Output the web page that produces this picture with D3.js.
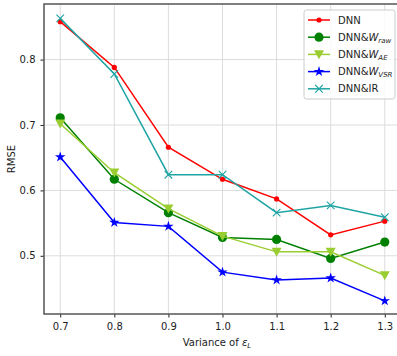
<!DOCTYPE html>
<html>
<head>
<meta charset="utf-8">
<script src="https://cdn.jsdelivr.net/npm/d3@7"></script>
<style>
  body { margin: 0; background: #fff; }
  svg { display: block; font-family: "DejaVu Sans", sans-serif; }
</style>
</head>
<body>
<svg id="chart" width="397" height="356"></svg>
<script>
// data
const variances = [0.7, 0.8, 0.9, 1.0, 1.1, 1.2, 1.3];
const dnn     = [0.858, 0.788, 0.666, 0.617, 0.587, 0.532, 0.553];
const dnnRaw  = [0.711, 0.617, 0.566, 0.528, 0.525, 0.496, 0.521];
const dnnAE   = [0.702, 0.627, 0.572, 0.530, 0.506, 0.506, 0.470];
const dnnVSR  = [0.651, 0.551, 0.545, 0.475, 0.463, 0.466, 0.431];
const dnnIR   = [0.863, 0.778, 0.624, 0.624, 0.566, 0.577, 0.559];
const yTicks = [0.5, 0.6, 0.7, 0.8];

const series = [
  { name: "DNN", sub: null, values: dnn, color: "#ff0000", marker: "dot" },
  { name: "DNN&W", sub: "raw", values: dnnRaw, color: "#008000", marker: "circle" },
  { name: "DNN&W", sub: "AE", values: dnnAE, color: "#9acd32", marker: "tri" },
  { name: "DNN&W", sub: "VSR", values: dnnVSR, color: "#0000ff", marker: "star" },
  { name: "DNN&IR", sub: null, values: dnnIR, color: "#1fa3a3", marker: "x" }
];

const svg = d3.select("#chart");
const margin = { left: 44, top: 4, bottom: 42 };
const height = 356;

const x = d3.scaleLinear().domain([0.67, 1.33]).range([margin.left, 401]);
const y = d3.scaleLinear().domain([0.411, 0.885]).range([height - margin.bottom, margin.top]);

// grid
const grid = svg.append("g");
grid.selectAll("line.vg").data(variances).enter().append("line")
  .attr("x1", d => x(d)).attr("x2", d => x(d))
  .attr("y1", y.range()[1]).attr("y2", y.range()[0])
  .attr("stroke", "#dcdcdc").attr("stroke-width", 1);
grid.selectAll("line.hg").data(yTicks).enter().append("line")
  .attr("x1", x.range()[0]).attr("x2", x.range()[1])
  .attr("y1", d => y(d)).attr("y2", d => y(d))
  .attr("stroke", "#dcdcdc").attr("stroke-width", 1);

// axes
const xAxis = svg.append("g")
  .attr("transform", `translate(0,${y.range()[0]})`)
  .call(d3.axisBottom(x).tickValues(variances).tickFormat(d3.format(".1f")).tickSize(3.5).tickPadding(5));
const yAxis = svg.append("g")
  .attr("transform", `translate(${margin.left},0)`)
  .call(d3.axisLeft(y).tickValues(yTicks).tickFormat(d3.format(".1f")).tickSize(3.5).tickPadding(5));
[xAxis, yAxis].forEach(a => {
  a.select(".domain").remove();
  a.selectAll(".tick line").attr("stroke", "#222").attr("stroke-width", 1);
  a.selectAll(".tick text").attr("fill", "#222").style("font-size", "10px").style("font-family", "DejaVu Sans");
});

// frame
svg.append("rect")
  .attr("x", x.range()[0]).attr("y", y.range()[1])
  .attr("width", x.range()[1] - x.range()[0]).attr("height", y.range()[0] - y.range()[1])
  .attr("fill", "none").attr("stroke", "#555").attr("stroke-width", 1.5);

// labels
svg.append("text")
  .attr("transform", `translate(15,${(y.range()[0] + y.range()[1]) / 2}) rotate(-90)`)
  .attr("text-anchor", "middle").attr("fill", "#222").style("font-size", "10px")
  .text("RMSE");
const xl = svg.append("text")
  .attr("x", 217).attr("y", 346)
  .attr("text-anchor", "middle").attr("fill", "#222").style("font-size", "10px");
xl.append("tspan").text("Variance of ");
xl.append("tspan").attr("font-style", "italic").text("ε");
xl.append("tspan").attr("font-style", "italic").attr("dy", 2).style("font-size", "7px").text("L");

// markers
function drawMarker(g, type, color) {
  if (type === "dot") {
    g.append("circle").attr("r", 2.6).attr("fill", color);
  } else if (type === "circle") {
    g.append("circle").attr("r", 4.6).attr("fill", color);
  } else if (type === "tri") {
    g.append("path").attr("d", "M-5,-4.2L5,-4.2L0,4.8Z").attr("fill", color);
  } else if (type === "star") {
    g.append("path").attr("d", d3.symbol(d3.symbolStar, 34)()).attr("fill", color);
  } else if (type === "x") {
    g.append("path").attr("d", "M-3.8,-3.8L3.8,3.8M-3.8,3.8L3.8,-3.8")
      .attr("stroke", color).attr("stroke-width", 1.1).attr("fill", "none");
  }
}

const line = d3.line().x((d, i) => x(variances[i])).y(d => y(d));
series.forEach(s => {
  svg.append("path").datum(s.values)
    .attr("d", line).attr("fill", "none")
    .attr("stroke", s.color).attr("stroke-width", 1.5);
  svg.append("g").selectAll("g").data(s.values).enter().append("g")
    .attr("transform", (d, i) => `translate(${x(variances[i])},${y(d)})`)
    .each(function () { drawMarker(d3.select(this), s.marker, s.color); });
});

// legend
const lg = svg.append("g").attr("transform", "translate(304,10)");
lg.append("rect").attr("width", 91).attr("height", 89).attr("rx", 2.5)
  .attr("fill", "#fff").attr("fill-opacity", 0.85).attr("stroke", "#ccc").attr("stroke-width", 1);
series.forEach((s, i) => {
  const row = lg.append("g").attr("transform", `translate(0,${10 + i * 17.2})`);
  row.append("line").attr("x1", 4).attr("x2", 26).attr("stroke", s.color).attr("stroke-width", 1.5);
  drawMarker(row.append("g").attr("transform", "translate(15,0)"), s.marker, s.color);
  const t = row.append("text").attr("x", 34).attr("y", 3.6).attr("fill", "#222").style("font-size", "10px");
  if (s.sub) {
    t.append("tspan").text("DNN&");
    t.append("tspan").attr("font-style", "italic").text("W");
    t.append("tspan").attr("font-style", "italic").attr("dy", 2).style("font-size", "7px").text(s.sub);
  } else {
    t.text(s.name);
  }
});
</script>
</body>
</html>
